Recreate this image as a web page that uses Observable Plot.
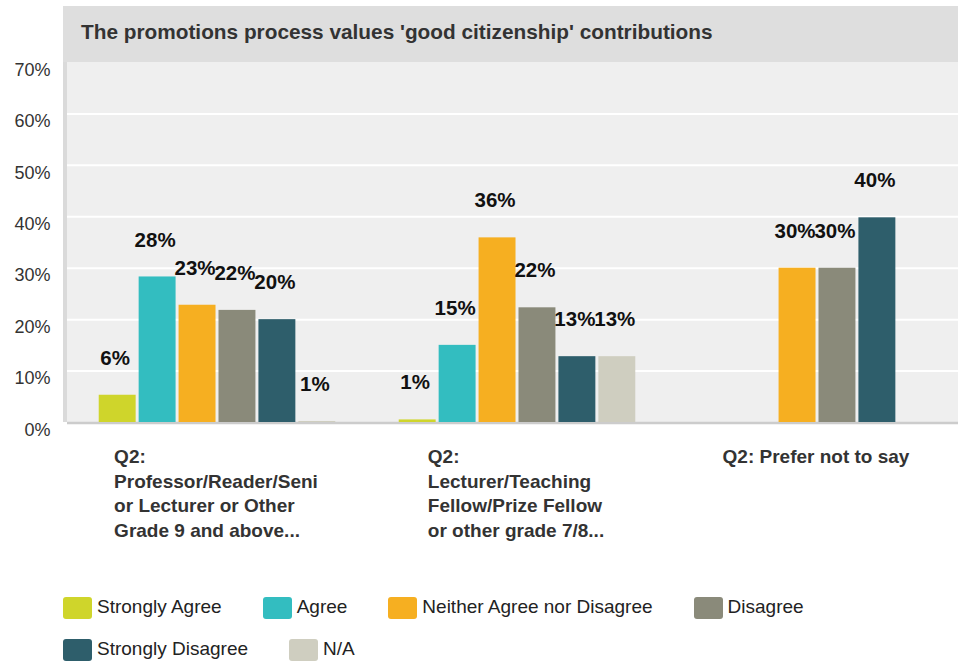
<!DOCTYPE html>
<html>
<head>
<meta charset="utf-8">
<script src="https://cdn.jsdelivr.net/npm/d3@7"></script>
<script src="https://cdn.jsdelivr.net/npm/@observablehq/plot@0.6"></script>
<style>
  html, body { margin: 0; padding: 0; background: #fff; overflow: hidden; width: 958px; height: 661px; font-family: "Liberation Sans", Arial, sans-serif; }
  #title { position: absolute; left: 63px; top: 6px; width: 877px; height: 56px; padding-left: 18px; background: #dedede; font-weight: bold; font-size: 20.8px; line-height: 52px; color: #333; white-space: nowrap; }
  #bg { position: absolute; left: 63px; top: 62px; width: 891px; height: 360px; background: #efefef; border-left: 4px solid #dadada; }
  #chart { position: absolute; left: 0; top: 62px; }
  #legend { position: absolute; left: 63px; top: 597px; width: 880px; display: flex; flex-wrap: wrap; row-gap: 20px; column-gap: 41px; }
  .item { display: flex; align-items: center; height: 22px; font-size: 19px; color: #222; white-space: nowrap; }
  .item span { position: relative; top: -1px; }
  .sw { width: 29px; height: 22px; border-radius: 3px; margin-right: 5px; }
</style>
</head>
<body>
<div id="title">The promotions process values 'good citizenship' contributions</div>
<div id="bg"></div>
<div id="chart"></div>
<div id="legend"></div>
<script>
// ---- data ----
const categories = ["Strongly Agree", "Agree", "Neither Agree nor Disagree", "Disagree", "Strongly Disagree", "N/A"];
const colors = ["#cfd52b", "#33bdc0", "#f6af21", "#8a8a7a", "#2e5e6b", "#cfcec0"];
const groups = ["professor", "lecturer", "prefer"];
const groupTickLabels = [
  "Q2:\nProfessor/Reader/Seni\nor Lecturer or Other\nGrade 9 and above...",
  "Q2:\nLecturer/Teaching\nFellow/Prize Fellow\nor other grade 7/8...",
  "Q2: Prefer not to say"
];
const professorValues = [5.3, 28.3, 22.8, 21.8, 20.0, 0.2];
const professorLabels = ["6%", "28%", "23%", "22%", "20%", "1%"];
const lecturerValues = [0.5, 15.0, 35.9, 22.3, 12.8, 12.8];
const lecturerLabels = ["1%", "15%", "36%", "22%", "13%", "13%"];
const preferValues = [null, null, 30.0, 30.0, 39.8, null];
const preferLabels = [null, null, "30%", "30%", "40%", null];
const yTicks = [0, 10, 20, 30, 40, 50, 60, 70];
const gridTicks = [10, 20, 30, 40, 50, 60];

const seriesValues = [professorValues, lecturerValues, preferValues];
const seriesLabels = [professorLabels, lecturerLabels, preferLabels];

const rows = [];
groups.forEach((g, gi) => categories.forEach((c, ci) => {
  const v = seriesValues[gi][ci];
  if (v != null) rows.push({group: g, cat: c, value: v, label: seriesLabels[gi][ci]});
}));

// measure label widths to center the left-aligned label blocks
const ctx = document.createElement("canvas").getContext("2d");
ctx.font = "bold 19px 'Liberation Sans'";
const blockWidth = (t) => Math.max(...t.split("\n").map(s => ctx.measureText(s).width));

const labelMarks = groups.map((g, i) =>
  Plot.text([{group: g, label: groupTickLabels[i]}], {
    fx: "group", frameAnchor: "bottom", text: "label",
    textAnchor: "start", lineAnchor: "top", lineHeight: 1.3,
    dy: 23, dx: -blockWidth(groupTickLabels[i]) / 2 - 1.5,
    fontSize: 19, fontWeight: "bold", fill: "#333"
  })
);

const chart = Plot.plot({
  width: 958,
  height: 480,
  marginTop: 0,
  marginBottom: 120,
  marginLeft: 66.1,
  marginRight: -9.8,
  style: {background: "transparent", fontFamily: "'Liberation Sans', Arial, sans-serif", overflow: "visible"},
  fx: {domain: groups, range: [66.1, 967.8], padding: 0, axis: null},
  x: {domain: categories, paddingInner: 0.075, paddingOuter: 0.7945, round: false, axis: null},
  y: {domain: [0, 70], range: [360, 0]},
  color: {domain: categories, range: colors},
  marks: [
    Plot.gridY({ticks: gridTicks, stroke: "#ffffff", strokeOpacity: 1, strokeWidth: 2}),
    Plot.ruleY([0], {stroke: "#cccccc", strokeWidth: 2.5, dy: 0.5}),
    Plot.barY(rows, {fx: "group", x: "cat", y: "value", fill: "cat"}),
    Plot.text(rows, {fx: "group", x: "cat", y: "value", text: "label", dy: -37, dx: -2.5,
      fontSize: 20.5, fontWeight: "bold", fill: "#111"}),
    Plot.axisY({ticks: yTicks, tickFormat: d => d + "%", tickSize: 0, tickPadding: 17, dy: 7.5,
      fontSize: 18, fill: "#333", label: null}),
    ...labelMarks
  ]
});
document.getElementById("chart").appendChild(chart);

// legend
const legend = document.getElementById("legend");
categories.forEach((c, i) => {
  const item = document.createElement("div");
  item.className = "item";
  const sw = document.createElement("div");
  sw.className = "sw";
  sw.style.background = colors[i];
  const tx = document.createElement("span");
  tx.textContent = c;
  item.appendChild(sw);
  item.appendChild(tx);
  legend.appendChild(item);
});
</script>
</body>
</html>
